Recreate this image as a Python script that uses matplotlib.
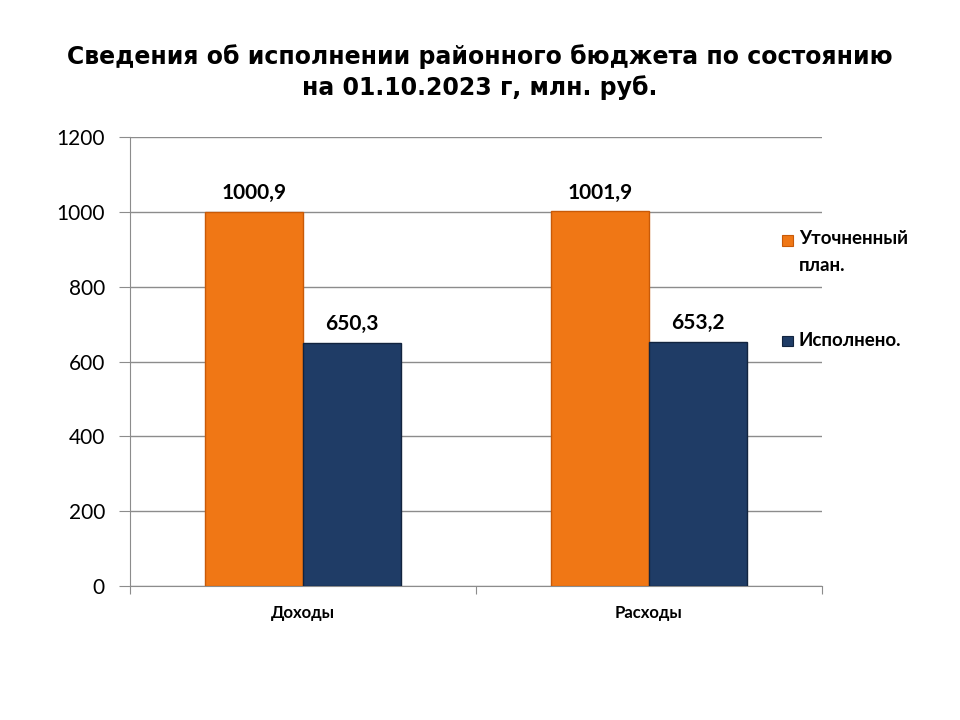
import matplotlib.pyplot as plt
from matplotlib.patches import Rectangle
import numpy as np

categories = ['Доходы', 'Расходы']
plan = [1000.9, 1001.9]
done = [650.3, 653.2]
plan_labels = ['1000,9', '1001,9']
done_labels = ['650,3', '653,2']
series_names = ['Уточненный\nплан.', 'Исполнено.']
colors = ['#F07715', '#1F3C66']
edges = ['#C85A08', '#12243F']

plt.rcParams['font.family'] = ['Lato', 'DejaVu Sans']

fig = plt.figure(figsize=(9.6, 7.2), dpi=100)
ax = fig.add_axes([0.1354, 0.1861, 0.7208, 0.6236])

x = np.arange(len(categories))
w = 0.284
ax.bar(x - w / 2, plan, w, color=colors[0], edgecolor=edges[0], linewidth=1, zorder=3)
ax.bar(x + w / 2, done, w, color=colors[1], edgecolor=edges[1], linewidth=1, zorder=3)

for i in range(len(categories)):
    ax.text(x[i] - w / 2, plan[i] + 22, plan_labels[i], ha='center', va='bottom',
            fontsize=15, fontweight='bold')
    ax.text(x[i] + w / 2, done[i] + 22, done_labels[i], ha='center', va='bottom',
            fontsize=15, fontweight='bold')

ax.set_xlim(-0.5, 1.5)
ax.set_ylim(0, 1200)
ax.set_yticks(np.arange(0, 1201, 200))
ax.yaxis.grid(True, color='#8C8C8C', linewidth=1)
ax.set_axisbelow(True)
ax.tick_params(axis='y', labelsize=15, direction='out', length=8, color='#8C8C8C', pad=10)

ax.set_xticks([-0.5, 0.5, 1.5])
ax.set_xticklabels([])
ax.set_xticks(x, minor=True)
ax.set_xticklabels(categories, minor=True, fontsize=12, fontweight='bold')
ax.tick_params(axis='x', which='major', direction='out', length=6, color='#8C8C8C')
ax.tick_params(axis='x', which='minor', length=0, pad=14)

for s in ['top', 'right']:
    ax.spines[s].set_visible(False)
for s in ['left', 'bottom']:
    ax.spines[s].set_color('#8C8C8C')

# legend drawn by hand to match spacing
leg_y = [1 - 241 / 720, 1 - 341 / 720]
for name, c, ec, yy in zip(series_names, colors, edges, leg_y):
    fig.patches.append(Rectangle((782 / 960, yy - 5.5 / 720), 11 / 960, 11 / 720,
                                 transform=fig.transFigure, facecolor=c, edgecolor=ec,
                                 linewidth=0.8))
    fig.text(799 / 960, yy, name, ha='left', va='top' if '\n' in name else 'center',
             fontsize=13.5, fontweight='bold', linespacing=1.7)
fig.texts[-2].set_y(leg_y[0] + 11 / 720)

fig.text(0.5, 0.9, 'Сведения об исполнении районного бюджета по состоянию\nна 01.10.2023 г, млн. руб.',
         ha='center', va='center', fontsize=17, fontweight='bold', family=['DejaVu Sans'],
         linespacing=1.3)

fig.savefig('out.png', dpi=100)
